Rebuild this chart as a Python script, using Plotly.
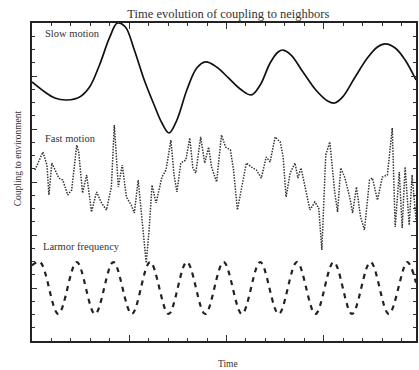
import plotly.graph_objects as go

# Slow motion (solid, smooth)
slow_t = [0.0, 0.66, 1.17, 1.79, 2.45, 2.96, 3.47, 3.98, 4.39, 4.80, 5.26, 5.77, 6.28, 6.68, 7.04,
          7.45, 7.96, 8.47, 8.93, 9.49, 10.10, 10.77, 11.28, 11.73, 12.24, 12.65, 12.91, 13.32,
          13.93, 14.59, 15.20, 15.56, 15.97, 16.58, 17.24, 17.76, 18.16, 18.67, 19.18, 19.74]
slow_v = [19.55, 18.79, 18.34, 18.19, 18.42, 19.17, 20.83, 22.87, 24.0, 23.70, 21.96, 19.70, 17.81,
          16.45, 15.70, 16.68, 18.94, 20.60, 21.06, 20.68, 19.85, 18.94, 18.57, 19.32, 20.98, 21.81,
          21.96, 21.58, 20.30, 18.94, 18.11, 17.96, 18.42, 19.85, 21.36, 22.19, 22.42, 22.11, 21.21,
          19.70]

# Fast motion (dotted, jagged)
fast_t = [0.15, 0.36, 0.56, 0.77, 0.87, 1.02, 1.17, 1.38, 1.58, 1.84, 2.04, 2.30, 2.40, 2.60, 2.81,
          3.06, 3.32, 3.57, 3.83, 4.08, 4.23, 4.44, 4.64, 4.85, 5.10, 5.26, 5.46, 5.71, 5.87, 6.02,
          6.17, 6.38, 6.68, 6.89, 7.14, 7.30, 7.45, 7.65, 7.91, 8.11, 8.27, 8.42, 8.67, 8.88, 9.08,
          9.23, 9.49, 9.74, 9.95, 10.20, 10.36, 10.56, 10.87, 11.02, 11.28, 11.53, 11.79, 12.04,
          12.24, 12.50, 12.76, 12.91, 13.06, 13.27, 13.52, 13.67, 13.83, 14.03, 14.29, 14.54, 14.74,
          14.90, 15.10, 15.31, 15.56, 15.71, 15.87, 16.07, 16.33, 16.48, 16.68, 16.89, 17.09, 17.35,
          17.50, 17.76, 18.01, 18.27, 18.52, 18.67, 18.88, 19.03, 19.18, 19.39, 19.54, 19.74]
fast_v = [12.91, 13.66, 14.26, 13.28, 11.02, 13.43, 12.91, 12.30, 12.15, 11.02, 11.40, 14.79, 14.26,
          11.17, 12.53, 9.74, 11.25, 10.42, 9.89, 11.62, 16.30, 11.62, 13.28, 10.87, 10.26, 9.66,
          12.15, 8.60, 5.89, 8.38, 11.77, 10.42, 12.38, 12.91, 15.17, 12.53, 11.25, 13.43, 13.66,
          15.32, 13.06, 12.68, 15.40, 13.43, 14.64, 13.13, 12.00, 15.55, 14.64, 14.42, 12.91, 9.89,
          12.38, 13.43, 13.13, 12.91, 12.30, 13.89, 13.51, 15.40, 15.02, 13.89, 10.87, 12.68, 13.43,
          12.30, 13.06, 11.62, 9.89, 10.49, 10.04, 6.87, 14.04, 15.02, 11.25, 9.74, 13.06, 12.38,
          10.87, 9.66, 11.62, 9.36, 8.38, 12.15, 12.30, 10.64, 12.38, 12.53, 16.08, 8.60, 12.75,
          8.53, 13.13, 8.75, 12.53, 9.13]

larmor_t = [0.0, 0.41, 1.35, 2.30, 3.24, 4.18, 5.13, 6.07, 7.02, 7.96, 8.90, 9.85, 10.79, 11.73,
            12.68, 13.62, 14.57, 15.51, 16.45, 17.40, 18.34, 19.29, 19.74]
larmor_v = [5.70, 5.96, 2.04, 5.96, 2.04, 5.96, 2.04, 5.96, 2.04, 5.96, 2.04, 5.96, 2.04, 5.96,
            2.04, 5.96, 2.04, 5.96, 2.04, 5.96, 2.04, 5.96, 4.40]

labels = ["Slow motion", "Fast motion", "Larmor frequency"]
label_pos_t = [0.56, 0.56, 0.46]
label_pos_v = [23.2, 15.25, 7.17]

FONT = "Liberation Serif, Times New Roman, serif"

fig = go.Figure()
fig.add_trace(go.Scatter(x=slow_t, y=slow_v, mode="lines", line=dict(color="#111", width=1.7, shape="spline", smoothing=1.0)))
fig.add_trace(go.Scatter(x=fast_t, y=fast_v, mode="lines", line=dict(color="#333", width=1.5, dash="1.5px,1.3px")))
fig.add_trace(go.Scatter(x=larmor_t, y=larmor_v, mode="lines", line=dict(color="#222", width=2.2, dash="5px,5px", shape="spline", smoothing=1.0)))

for txt, tx, ty in zip(labels, label_pos_t, label_pos_v):
    fig.add_annotation(x=tx, y=ty, text=txt, showarrow=False, xanchor="left", yanchor="middle",
                       font=dict(family=FONT, size=10.5, color="#333"))

fig.add_annotation(xref="paper", yref="paper", x=0.51, y=-0.072, text="Time", showarrow=False,
                   xanchor="center", yanchor="middle", font=dict(family=FONT, size=9.5, color="#333"))
fig.add_annotation(xref="paper", yref="paper", x=-0.036, y=0.575, text="Coupling to environment",
                   showarrow=False, textangle=-90, xanchor="center", yanchor="middle",
                   font=dict(family=FONT, size=9.5, color="#333"))

axis_common = dict(showgrid=False, zeroline=False, showticklabels=False, showline=True,
                   linecolor="#222", linewidth=1.5, mirror="ticks", ticks="inside",
                   tickcolor="#333", tickwidth=1)
fig.update_xaxes(range=[0, 19.74], dtick=5, tick0=0, ticklen=6,
                 minor=dict(dtick=1, tick0=0, ticklen=3, ticks="inside", tickcolor="#333"),
                 **axis_common)
fig.update_yaxes(range=[0, 24], dtick=4, tick0=0, ticklen=5,
                 minor=dict(dtick=1, tick0=0, ticklen=3, ticks="inside", tickcolor="#333"),
                 **axis_common)

fig.update_layout(
    width=419, height=370,
    margin=dict(l=32, r=1, t=23, b=29),
    paper_bgcolor="white", plot_bgcolor="white",
    showlegend=False,
    font=dict(family=FONT, color="#333"),
    title=dict(text="Time evolution of coupling to neighbors", x=0.545, xanchor="center",
               y=1 - 14 / 370, yanchor="middle", font=dict(family=FONT, size=12.5, color="#333")),
)

fig.write_html("out.html")
